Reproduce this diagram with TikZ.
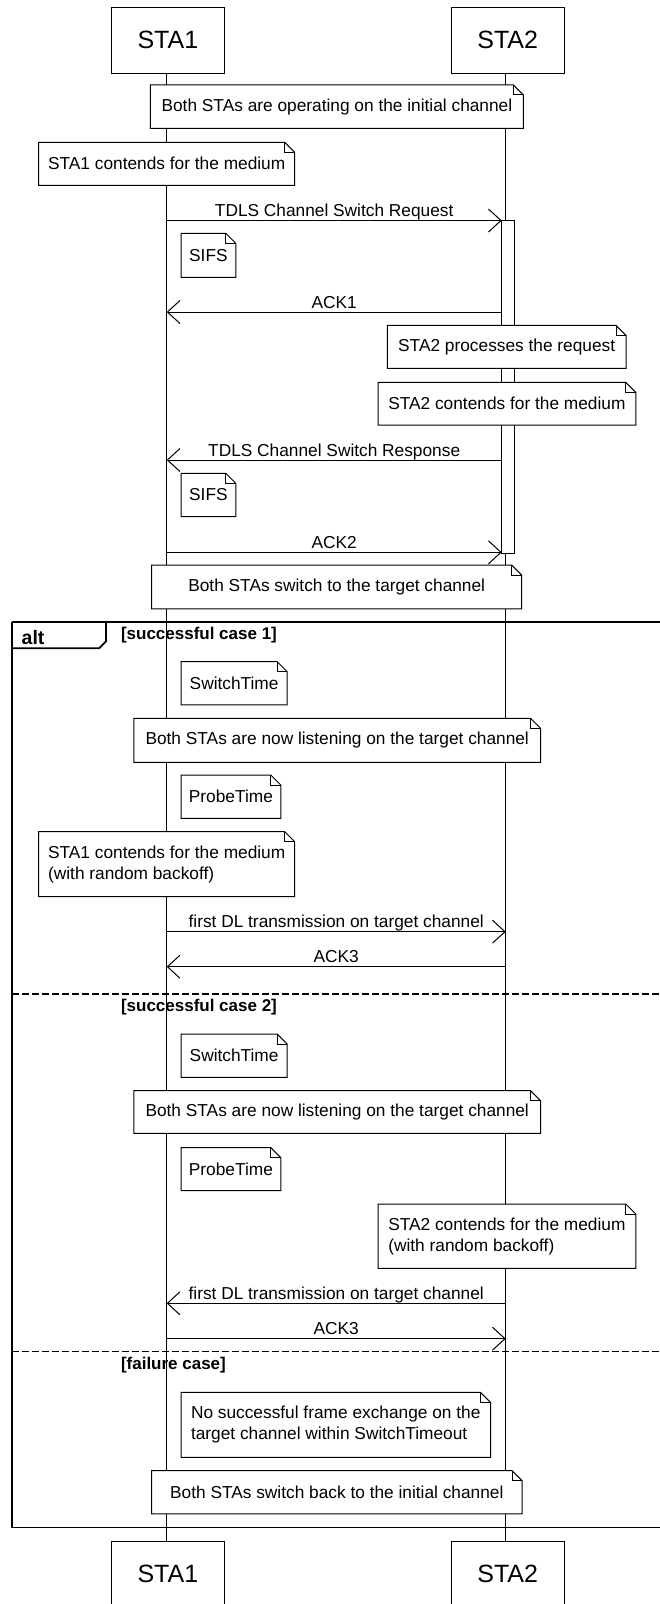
\documentclass[tikz,border=0pt]{standalone}
\usepackage{fontspec}
\setmainfont{Liberation Sans}
\usetikzlibrary{arrows.meta}
\tikzset{
  edge/.style={draw=black, line width=1pt},
  head/.style={draw=black, line width=1pt, fill=white, rectangle, outer sep=0pt, inner sep=0pt,
    minimum width=113pt, minimum height=66pt, font=\fontsize{25}{30}\selectfont},
  note/.style={fill=white, rectangle, outer sep=0pt, inner sep=0pt, align=left,
    font=\fontsize{17.3}{20.7}\selectfont},
  msgline/.style={draw=black, line width=1pt, -{Straight Barb[length=12.5pt,width=23pt,line width=1pt]}},
  lbl/.style={anchor=base, yshift=4pt, inner sep=0pt, font=\fontsize{17.3}{20.7}\selectfont},
  frameline/.style={draw=black, line width=1.8pt},
  sepline/.style={draw=black, line width=1.5pt, dash pattern=on 7pt off 3pt},
  guard/.style={anchor=west, inner sep=0pt, font=\bfseries\fontsize{17}{20}\selectfont},
  activ/.style={draw=black, line width=1pt, fill=white},
}
\newcommand\umlnote[6]{% name, cx, cy, w, h, text
  \node[note, minimum width=#4pt, minimum height=#5pt] (#1) at (#2,#3) {#6};
  \draw[edge] (#1.north west) -- ([xshift=-10pt]#1.north east) -- ([yshift=-10pt]#1.north east)
     -- (#1.south east) -- (#1.south west) -- cycle;
  \draw[edge] ([xshift=-10pt]#1.north east) |- ([yshift=-10pt]#1.north east);
}
\newcommand\umlmsg[5]{% name, y, xfrom, xto, label
  \coordinate (#1s) at (#3,#2);
  \coordinate (#1e) at (#4,#2);
  \draw[msgline] (#1s) -- node[lbl] {#5} (#1e);
}
\begin{document}
\begin{tikzpicture}[x=1pt, y=-1pt]
\useasboundingbox (0,0) rectangle (660,1604);
\fill[white] (0,0) rectangle (660,1604);

% alt frame
\draw[frameline] (11.7,621.7) -- (670,621.7);
\draw[frameline] (11.7,621.7) -- (11.7,1527.5) -- (670,1527.5);
\draw[frameline] (11.7,648.3) -- (99,648.3) -- (106,641.3) -- (106,621.7);
\node[anchor=west, inner sep=0pt, font=\bfseries\fontsize{19.5}{22}\selectfont] (alt) at (21.5,637.5) {alt};
\node[guard] (g1) at (120.8,635.5) {[successful case 1]};
\draw[sepline] (11.7,994) -- (670,994);
\node[guard] (g2) at (120.8,1007.5) {[successful case 2]};
\draw[sepline] (11.7,1351.7) -- (670,1351.7);
\node[guard] (g3) at (120.8,1365) {[failure case]};

% lifelines
\coordinate (l1top) at (166.7,73.3);
\coordinate (l1bot) at (166.7,1541);
\coordinate (l2top) at (505.7,73.3);
\coordinate (l2bot) at (505.7,1541);
\draw[edge] (l1top) -- (l1bot);
\draw[edge] (l2top) -- (l2bot);

% activation bar
\draw[activ] (501.7,220.5) rectangle (514.3,553);

% header boxes
\node[head] (h1) at (167.9,40.3) {STA1};
\node[head] (h2) at (507.7,40.3) {STA2};
\node[head] (f1) at (167.9,1574) {STA1};
\node[head] (f2) at (507.7,1574) {STA2};

% notes
\umlnote{n1}{336.9}{106.7}{373}{43.5}{Both STAs are operating on the initial channel}
\umlnote{n2}{166.7}{163.8}{256}{43}{STA1 contends for the medium}
\umlnote{sifsa}{208.4}{255.3}{54.8}{44}{SIFS}
\umlnote{n3}{506.7}{346.8}{238.6}{43}{STA2 processes the request}
\umlnote{n4}{506.9}{403.7}{257.8}{42.7}{STA2 contends for the medium}
\umlnote{sifsb}{208.4}{495}{54.8}{43.4}{SIFS}
\umlnote{n5}{336.7}{586.9}{370}{43.7}{Both STAs switch to the target channel}
\umlnote{swa}{234.1}{683.3}{106.2}{43.3}{SwitchTime}
\umlnote{lia}{337.2}{740.3}{406.7}{44}{Both STAs are now listening on the target channel}
\umlnote{pra}{230.9}{796.7}{99.8}{43.3}{ProbeTime}
\umlnote{cba}{166.7}{864.2}{256}{65}{STA1 contends for the medium\\(with random backoff)}
\umlnote{swb}{234.1}{1055.7}{106.2}{43.3}{SwitchTime}
\umlnote{lib}{337.2}{1112}{406.7}{42.6}{Both STAs are now listening on the target channel}
\umlnote{prb}{230.9}{1169.2}{99.8}{43}{ProbeTime}
\umlnote{cbb}{506.9}{1236.2}{257.8}{64.3}{STA2 contends for the medium\\(with random backoff)}
\umlnote{nof}{335.75}{1424.8}{309.5}{65}{No successful frame exchange on the\\target channel within SwitchTimeout}
\umlnote{back}{336.8}{1492.3}{370.4}{43.3}{Both STAs switch back to the initial channel}

% messages
\umlmsg{ma}{220.5}{166.7}{501.7}{TDLS Channel Switch Request}
\umlmsg{mb}{312}{501.7}{166.7}{ACK1}
\umlmsg{mc}{460}{501.7}{166.7}{TDLS Channel Switch Response}
\umlmsg{md}{552.3}{166.7}{501.7}{ACK2}
\umlmsg{me}{931.7}{166.7}{505.7}{first DL transmission on target channel}
\umlmsg{mf}{966.7}{505.7}{166.7}{ACK3}
\umlmsg{mg}{1303.3}{505.7}{166.7}{first DL transmission on target channel}
\umlmsg{mh}{1338.7}{166.7}{505.7}{ACK3}
\end{tikzpicture}
\end{document}
